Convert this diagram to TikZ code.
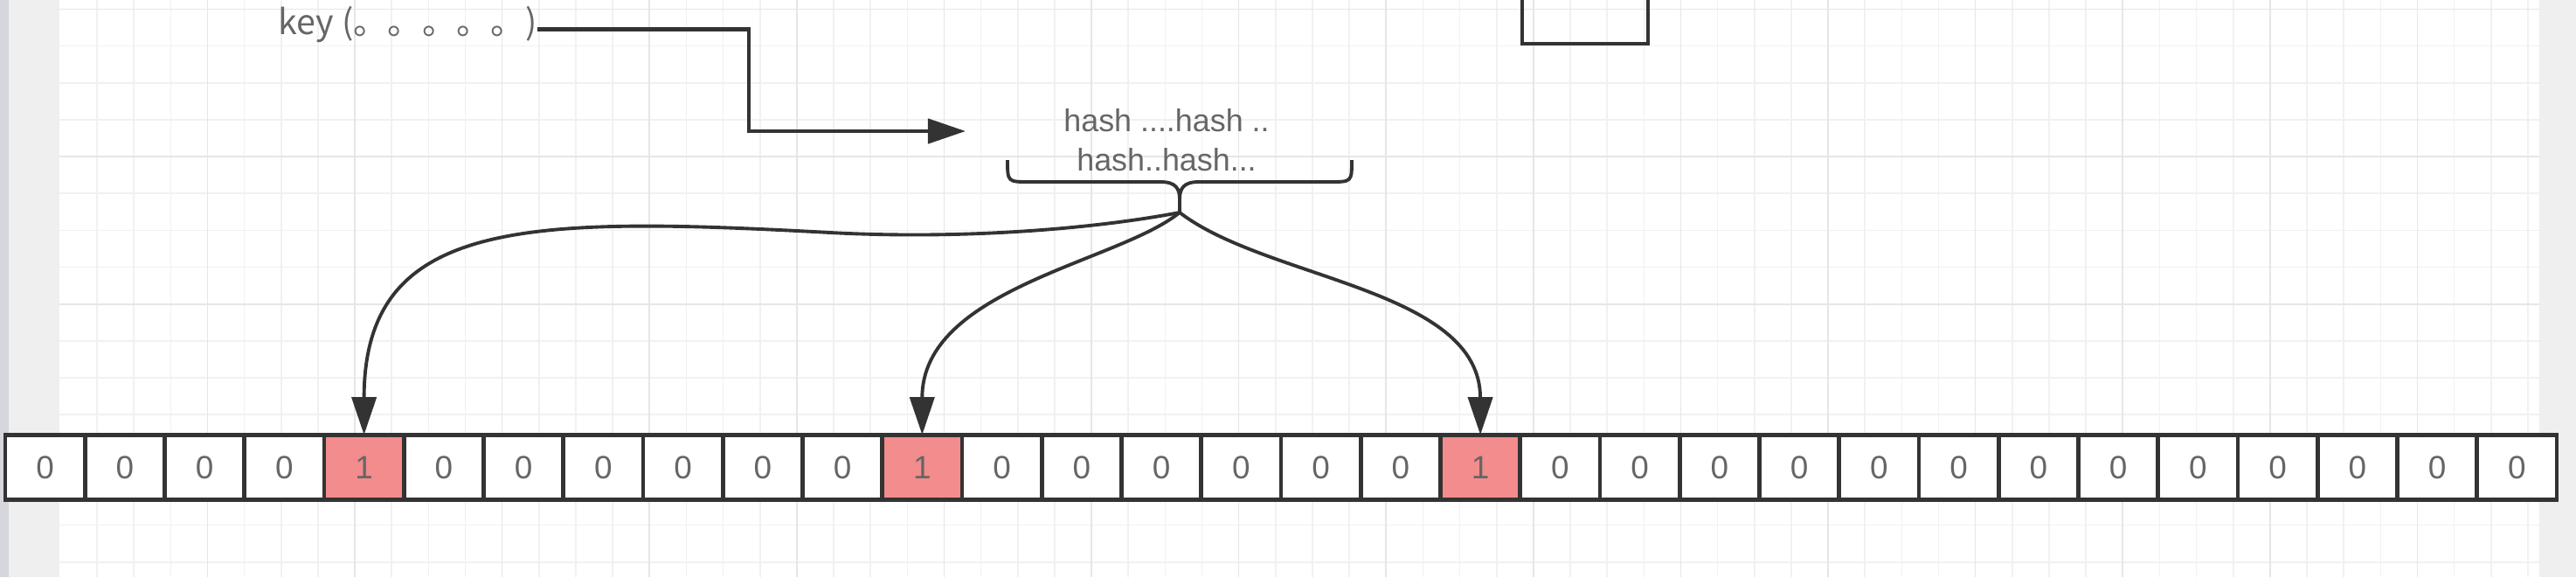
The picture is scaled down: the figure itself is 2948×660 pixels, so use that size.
\documentclass[tikz,border=0pt]{standalone}
\usepackage{fontspec}
\setmainfont{Liberation Sans}
\newfontfamily\cjkfont{Noto Sans CJK SC}
\usetikzlibrary{arrows.meta}
\definecolor{linec}{HTML}{333333}
\definecolor{txtc}{HTML}{666666}
\definecolor{onefill}{HTML}{F38C8C}
\definecolor{gridminor}{HTML}{F1F1F1}
\definecolor{gridmajor}{HTML}{E6E6E6}
\definecolor{sidegray}{HTML}{EFEFEF}
\definecolor{edgegray}{HTML}{D5D7DD}
\begin{document}
\begin{tikzpicture}[x=0.01cm,y=-0.01cm,
  cell/.style={draw=linec, line width=1.3pt, fill=white, minimum width=0.9125cm,
    minimum height=0.745cm, inner sep=0pt, outer sep=0pt, text=txtc,
    font=\fontsize{10.5}{12}\selectfont},
  onecell/.style={cell, fill=onefill},
  arr/.style={draw=linec, line width=1.25pt, -{Triangle[length=4.3mm,width=2.8mm]}},
  curvearr/.style={arr, line width=1.1pt},
  bracestyle/.style={draw=linec, line width=1.1pt},
  gridline/.style={draw=gridminor, line width=0.45pt},
  gridmaj/.style={draw=gridmajor, line width=0.45pt},
  txt/.style={text=txtc, inner sep=0pt}]
\useasboundingbox (0,0) rectangle (2948,660);
\clip (0,0) rectangle (2948,660);
% background
\fill[white] (0,0) rectangle (2948,660);
\fill[sidegray] (0,0) rectangle (68,660);
\fill[edgegray] (0,0) rectangle (10,660);
\fill[sidegray] (2906,0) rectangle (2948,660);
% grid
\foreach \k in {0,...,66}{
  \draw[gridline] ({111+42.15*\k},0) -- ({111+42.15*\k},660);
}
\foreach \k in {0,...,15}{
  \draw[gridline] (68,{10.5+42.15*\k}) -- (2906,{10.5+42.15*\k});
}
\foreach \k in {3,7,...,63}{
  \draw[gridmaj] ({111+42.15*\k},0) -- ({111+42.15*\k},660);
}
\foreach \k in {0,4,...,12}{
  \draw[gridmaj] (68,{10.5+42.15*\k}) -- (2906,{10.5+42.15*\k});
}
% top box (cut off)
\node[draw=linec, line width=1.3pt, minimum width=1.44cm, minimum height=1.2cm,
  inner sep=0pt, outer sep=0pt] (topbox) at (1814,-10) {};
% bit cells
\foreach \i in {0,...,31}{
  \pgfmathtruncatemacro\isone{(\i==4)||(\i==11)||(\i==18)}
  \ifnum\isone=1
    \node[onecell] (c\i) at ({6+91.25*(\i+0.5)},534.5) {1};
  \else
    \node[cell] (c\i) at ({6+91.25*(\i+0.5)},534.5) {0};
  \fi
}
% key text and arrow
\node[txt, anchor=west, font=\cjkfont\fontsize{11.2}{13}\selectfont] (key) at (318,27.5) {key (。。。。。)};
\coordinate (kbend) at (857,150);
\coordinate (hin) at (1105,150);
\draw[arr] ([yshift=-0.058cm]key.east) -| (kbend) -- (hin);
% hash text
\node[txt, align=center, font=\fontsize{10.2}{12.8}\selectfont] (hash) at (1335,160)
  {hash ....hash ..\\hash..hash...};
% brace
\coordinate (tip) at (1350,243);
\draw[bracestyle] (1153,183) .. controls (1153,208) .. (1178,208) -- (1328,208)
  .. controls (1346,208) and (1350,216) .. (1350,228) -- (tip);
\draw[bracestyle] (1547,183) .. controls (1547,208) .. (1522,208) -- (1372,208)
  .. controls (1354,208) and (1350,216) .. (1350,228);
% curved arrows
\draw[curvearr] (tip) .. controls (1250,262) and (1100,274) .. (950,266)
  .. controls (600,247) and (416.6,250) .. (c4.north);
\draw[curvearr] (tip) .. controls (1280,300) and (1055,330) .. (c11.north);
\draw[curvearr] (tip) .. controls (1450,320) and (1694,330) .. (c18.north);
\end{tikzpicture}
\end{document}
